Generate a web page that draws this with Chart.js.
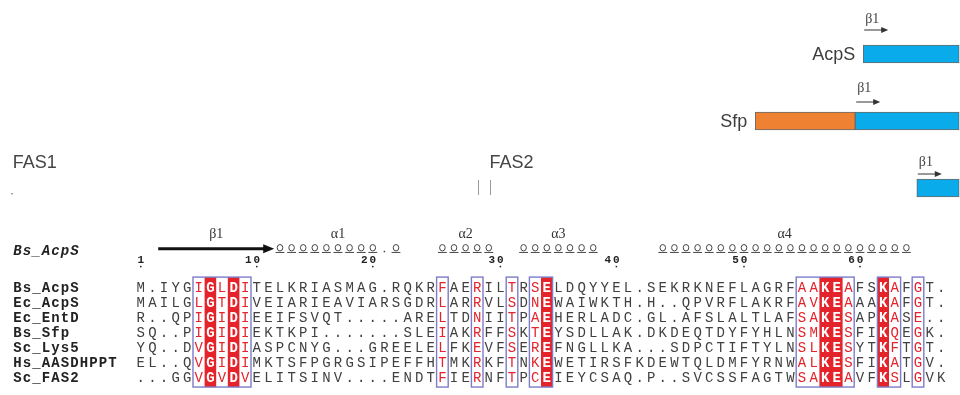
<!DOCTYPE html>
<html>
<head>
<meta charset="utf-8">
<script src="https://cdn.jsdelivr.net/npm/chart.js@4.4.1/dist/chart.umd.min.js"></script>
<style>
  body { margin: 0; background: #fff; }
  .stage { position: relative; width: 960px; height: 395px; }
  .stage canvas { position: absolute; left: 0; top: 0; }
</style>
</head>
<body>
<div class="stage">
  <canvas id="domainChart" width="960" height="395"></canvas>
  <canvas id="alignChart" width="960" height="395"></canvas>
</div>
<script>
// --- domain schematic (top right), x in residue-like units ---
const trackNames = ["AcpS", "Sfp", "FAS"];
const trackLabels = ["AcpS", "Sfp", ""];
const nTermDomain = [null, [944, 1069], null];
const pptDomain = [[1079, 1199], [1069, 1199], [1146, 1199]];
const fasSubunits = ["FAS1", "FAS2"];
const fasSubunitStarts = [16, 612];
const fasBreaks = [597, 613];
const fasLineStart = 14;

// --- sequence alignment ---
const seqNames = ["Bs_AcpS", "Ec_AcpS", "Ec_EntD", "Bs_Sfp", "Sc_Lys5", "Hs_AASDHPPT", "Sc_FAS2"];
const sequences = [
  "M.IYGIGLDITELKRIASMAG.RQKRFAERILTRSELDQYYEL.SEKRKNEFLAGRFAAKEAFSKAFGT.",
  "MAILGLGTDIVEIARIEAVIARSGDRLARRVLSDNEWAIWKTH.H..QPVRFLAKRFAVKEAAAKAFGT.",
  "R..QPIGIDIEEIFSVQT.....ARELTDNIITPAEHERLADC.GL.AFSLALTLAFSAKESAPKASE..",
  "SQ..PIGIDIEKTKPI.......SLEIAKRFFSKTEYSDLLAK.DKDEQTDYFYHLNSMKESFIKQEGK.",
  "YQ..DVGIDIASPCNYG...GREELELFKEVFSEREFNGLLKA...SDPCTIFTYLNSLKESYTKFTGT.",
  "EL..QVGIDIMKTSFPGRGSIPEFFHTMKRKFTNKEWETIRSFKDEWTQLDMFYRNWALKESFIKATGV.",
  "...GGVGVDVELITSINV....ENDTFIERNFTPCEIEYCSAQ.P..SVCSSFAGTWSAKEAVFKSLGVK"
];
const numberLabels = [1, 10, 20, 30, 40, 50, 60];
const numberColumns = [1, 11, 21, 32, 42, 53, 63];
const boxSpans = [[6, 10], [27, 27], [30, 30], [33, 33], [35, 36], [58, 62], [65, 66], [68, 68]];
const identicalColumns = [7, 9, 36, 60, 61, 65];
const structureName = "Bs_AcpS";
const strandNames = ["β1"];
const strandSpans = [[3, 12]];
const helixNames = ["α1", "α2", "α3", "α4"];
const helixSpans = [[13, 23], [27, 31], [34, 40], [46, 67]];

const RED = "#e4232b";
const BOX = "#7c7cc8";
const INK = "#404040";

function drawSpaced(ctx, text, x, y, step) {
  for (let i = 0; i < text.length; i++) {
    ctx.fillText(text[i], x + i * step, y);
  }
}

// ---------- top chart ----------
const domainPlugin = {
  id: "domainLabels",
  afterDatasetsDraw(chart) {
    const ctx = chart.ctx;
    const xs = chart.scales.x;
    const ys = chart.scales.y;
    const nMeta = chart.getDatasetMeta(0).data;
    const pMeta = chart.getDatasetMeta(1).data;
    const arrowGap = [15, 10, 5];
    const labelGap = [26, 24, 17];

    ctx.save();
    trackNames.forEach((name, i) => {
      const bar = pMeta[i];
      const top = bar.y - bar.height / 2;
      let left = Math.min(bar.x, bar.base);
      if (nTermDomain[i]) {
        left = Math.min(left, nMeta[i].x, nMeta[i].base);
      }
      if (trackLabels[i]) {
        ctx.fillStyle = "#3d3d3d";
        ctx.font = '18px "Liberation Sans"';
        ctx.textAlign = "right";
        ctx.textBaseline = "middle";
        ctx.fillText(trackLabels[i], left - 8, bar.y + 1);
      }
      // beta1 marker at the start of the PPTase domain
      const start = Math.min(bar.x, bar.base);
      const ay = top - arrowGap[i];
      ctx.strokeStyle = "#333";
      ctx.fillStyle = "#333";
      ctx.lineWidth = 1;
      ctx.beginPath();
      ctx.moveTo(start + 1, ay);
      ctx.lineTo(start + 19, ay);
      ctx.stroke();
      ctx.beginPath();
      ctx.moveTo(start + 25, ay);
      ctx.lineTo(start + 18, ay - 3);
      ctx.lineTo(start + 18, ay + 3);
      ctx.closePath();
      ctx.fill();
      ctx.font = '14px "Liberation Serif"';
      ctx.textAlign = "left";
      ctx.textBaseline = "middle";
      ctx.fillStyle = "#444";
      ctx.fillText("β1", start + 2, top - labelGap[i]);
    });

    // FAS subunit labels and break marks
    const fy = ys.getPixelForValue(2);
    ctx.fillStyle = "#444";
    ctx.font = '18px "Liberation Sans"';
    ctx.textAlign = "left";
    ctx.textBaseline = "middle";
    fasSubunits.forEach((s, i) => {
      ctx.fillText(s, xs.getPixelForValue(fasSubunitStarts[i]), fy - 25);
    });
    ctx.strokeStyle = "#9a9a9a";
    ctx.lineWidth = 1;
    fasBreaks.forEach(b => {
      const bx = Math.round(xs.getPixelForValue(b)) + 0.5;
      ctx.beginPath();
      ctx.moveTo(bx, fy - 8);
      ctx.lineTo(bx, fy + 7);
      ctx.stroke();
    });
    ctx.fillStyle = "#888";
    ctx.fillRect(xs.getPixelForValue(fasLineStart), fy + 5, 1.5, 1.5);
    ctx.restore();
  }
};

new Chart(document.getElementById("domainChart"), {
  type: "bar",
  data: {
    labels: trackNames,
    datasets: [
      {
        label: "N-terminal",
        data: nTermDomain,
        backgroundColor: "#ee8232",
        borderColor: "#6a6a6a",
        borderWidth: 1,
        borderSkipped: false,
        barThickness: 18,
        grouped: false,
        clip: false
      },
      {
        label: "PPTase",
        data: pptDomain,
        backgroundColor: "#0aabea",
        borderColor: "#6a6a6a",
        borderWidth: 1,
        borderSkipped: false,
        barThickness: 18,
        grouped: false,
        clip: false
      }
    ]
  },
  options: {
    indexAxis: "y",
    responsive: false,
    animation: false,
    events: [],
    layout: { padding: { top: 54, bottom: 207, left: 0, right: 0 } },
    plugins: { legend: { display: false }, tooltip: { enabled: false } },
    scales: {
      x: { type: "linear", min: 0, max: 1200, display: false },
      y: { type: "category", offset: false, display: false }
    }
  },
  plugins: [domainPlugin]
});

// ---------- alignment chart ----------
const residuePoints = [];
sequences.forEach((seq, r) => {
  for (let c = 0; c < seq.length; c++) {
    residuePoints.push({ x: c + 0.5, y: r + 1, ch: seq[c], col: c + 1 });
  }
});

function inBox(col) {
  return boxSpans.some(([a, b]) => col >= a && col <= b);
}

const alignPlugin = {
  id: "alignment",
  beforeDatasetsDraw(chart) {
    const ctx = chart.ctx;
    const xs = chart.scales.x;
    const ys = chart.scales.y;
    const yTop = ys.getPixelForValue(0.34);
    const yBot = ys.getPixelForValue(sequences.length + 0.67);
    ctx.save();
    ctx.fillStyle = RED;
    identicalColumns.forEach(c => {
      const x0 = xs.getPixelForValue(c - 1);
      const x1 = xs.getPixelForValue(c);
      ctx.fillRect(x0, yTop, x1 - x0, yBot - yTop);
    });
    ctx.restore();
  },
  afterDatasetsDraw(chart) {
    const ctx = chart.ctx;
    const xs = chart.scales.x;
    const ys = chart.scales.y;
    const meta = chart.getDatasetMeta(0).data;
    const pts = chart.data.datasets[0].data;
    const colW = xs.getPixelForValue(1) - xs.getPixelForValue(0);
    ctx.save();

    // residues
    ctx.textAlign = "center";
    ctx.textBaseline = "alphabetic";
    meta.forEach((el, i) => {
      const p = pts[i];
      if (identicalColumns.includes(p.col)) {
        ctx.fillStyle = "#ffffff";
        ctx.font = 'bold 14px "Liberation Mono"';
      } else if (inBox(p.col)) {
        ctx.fillStyle = RED;
        ctx.font = '14px "Liberation Mono"';
      } else {
        ctx.fillStyle = INK;
        ctx.font = '14px "Liberation Mono"';
      }
      ctx.fillText(p.ch, el.x, el.y + 4.6);
    });

    // similarity boxes
    const yTop = ys.getPixelForValue(0.34);
    const yBot = ys.getPixelForValue(sequences.length + 0.67);
    ctx.strokeStyle = BOX;
    ctx.lineWidth = 1.4;
    boxSpans.forEach(([a, b]) => {
      const x0 = xs.getPixelForValue(a - 1);
      const x1 = xs.getPixelForValue(b);
      ctx.strokeRect(x0, yTop, x1 - x0, yBot - yTop);
    });

    // sequence names
    ctx.fillStyle = "#222";
    ctx.font = 'bold 14px "Liberation Mono"';
    ctx.textAlign = "left";
    seqNames.forEach((n, r) => {
      drawSpaced(ctx, n, xs.getPixelForValue(-10.5), ys.getPixelForValue(r + 1) + 4.6, 9.5);
    });

    // numbering
    ctx.font = 'bold 11px "Liberation Mono"';
    ctx.textAlign = "center";
    ctx.fillStyle = "#222";
    const ny = ys.getPixelForValue(-0.8);
    const dy = ys.getPixelForValue(-0.36);
    numberLabels.forEach((n, i) => {
      const cx = xs.getPixelForValue(numberColumns[i] - 0.5);
      const s = String(n);
      for (let k = 0; k < s.length; k++) {
        ctx.fillText(s[k], cx - (s.length - 1 - k) * 8.5, ny + 3.5);
      }
      ctx.fillRect(cx - 0.75, dy - 0.75, 1.5, 1.5);
    });

    // secondary structure
    const ssY = ys.getPixelForValue(-1.55);
    const ssLabelY = ys.getPixelForValue(-2.53);
    ctx.font = 'italic bold 14px "Liberation Mono"';
    ctx.textAlign = "left";
    ctx.fillStyle = "#222";
    drawSpaced(ctx, structureName, xs.getPixelForValue(-10.5), ys.getPixelForValue(-1.47) + 4.6, 9.5);

    ctx.font = '14px "Liberation Serif"';
    ctx.textAlign = "center";
    ctx.textBaseline = "middle";
    ctx.fillStyle = "#333";
    strandSpans.forEach(([a, b], i) => {
      const x0 = xs.getPixelForValue(a - 1);
      const x1 = xs.getPixelForValue(b);
      ctx.fillText(strandNames[i], (x0 + x1) / 2, ssLabelY);
      ctx.strokeStyle = "#111";
      ctx.fillStyle = "#111";
      ctx.lineWidth = 3;
      ctx.beginPath();
      ctx.moveTo(x0, ssY);
      ctx.lineTo(x1 - 9, ssY);
      ctx.stroke();
      ctx.beginPath();
      ctx.moveTo(x1, ssY);
      ctx.lineTo(x1 - 11, ssY - 4.5);
      ctx.lineTo(x1 - 11, ssY + 4.5);
      ctx.closePath();
      ctx.fill();
      ctx.fillStyle = "#333";
    });

    const refSeq = sequences[seqNames.indexOf(structureName)];
    helixSpans.forEach(([a, b], i) => {
      const x0 = xs.getPixelForValue(a - 1);
      const x1 = xs.getPixelForValue(b);
      ctx.fillStyle = "#333";
      ctx.fillText(helixNames[i], (x0 + x1) / 2, ssLabelY);
      ctx.strokeStyle = "#444";
      ctx.lineWidth = 1;
      for (let c = a; c <= b; c++) {
        const cx = xs.getPixelForValue(c - 0.5);
        if (refSeq[c - 1] === ".") {
          ctx.fillStyle = "#444";
          ctx.fillRect(cx - 0.75, ssY + 2, 1.5, 1.5);
          continue;
        }
        ctx.beginPath();
        ctx.ellipse(cx, ssY - 1, colW * 0.24, 3.2, 0, 0, Math.PI * 2);
        ctx.stroke();
        ctx.beginPath();
        ctx.moveTo(cx - colW * 0.38, ssY + 3.7);
        ctx.lineTo(cx + colW * 0.38, ssY + 3.7);
        ctx.stroke();
      }
    });

    ctx.restore();
  }
};

new Chart(document.getElementById("alignChart"), {
  type: "scatter",
  data: {
    datasets: [
      {
        label: "residues",
        data: residuePoints,
        pointRadius: 0,
        pointHoverRadius: 0
      }
    ]
  },
  options: {
    responsive: false,
    animation: false,
    events: [],
    layout: { padding: 0 },
    plugins: { legend: { display: false }, tooltip: { enabled: false } },
    scales: {
      x: { type: "linear", min: -11.638, max: 71.121, display: false },
      y: { type: "linear", min: -18.133, max: 8.2, reverse: true, display: false }
    }
  },
  plugins: [alignPlugin]
});
</script>
</body>
</html>
